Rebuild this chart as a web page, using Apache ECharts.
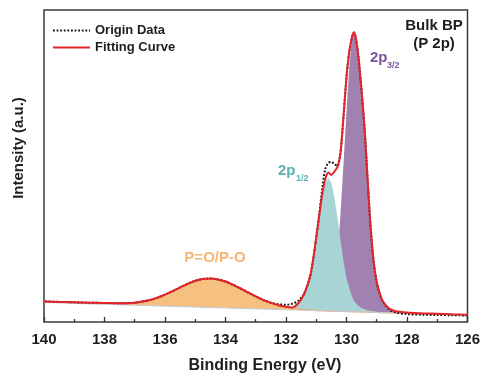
<!DOCTYPE html>
<html>
<head>
<meta charset="utf-8">
<script src="https://cdn.jsdelivr.net/npm/echarts@6/dist/echarts.min.js"></script>
<style>
  html, body { margin: 0; padding: 0; background: #fff; }
  #chart { width: 483px; height: 380px; }
</style>
</head>
<body>
<div id="chart"></div>
<script>
// Binding energy grid (eV)
const energy = [126, 126.5, 127, 127.5, 128, 128.4, 128.6, 128.8, 128.9, 129, 129.1, 129.2, 129.3, 129.4, 129.5, 129.55, 129.6, 129.65, 129.7, 129.75, 129.8, 129.85, 129.9, 129.95, 130, 130.1, 130.2, 130.3, 130.4, 130.5, 130.6, 130.7, 130.8, 130.9, 131, 131.1, 131.2, 131.4, 131.6, 131.8, 132, 132.25, 132.5, 132.75, 133, 133.25, 133.5, 133.75, 134, 134.25, 134.5, 134.75, 135, 135.25, 135.5, 135.75, 136, 136.25, 136.5, 137, 137.5, 138, 138.5, 139, 139.5, 140];

// Background under the spectrum
const background = [6.8, 7.3, 7.7, 8.2, 8.6, 9.0, 9.2, 9.3, 9.4, 9.5, 9.6, 9.7, 9.8, 9.9, 10.0, 10.0, 10.1, 10.1, 10.2, 10.2, 10.3, 10.3, 10.3, 10.4, 10.4, 10.5, 10.6, 10.7, 10.8, 10.9, 11.0, 11.1, 11.2, 11.2, 11.3, 11.4, 11.5, 11.7, 11.9, 12.1, 12.2, 12.5, 12.7, 12.9, 13.2, 13.4, 13.6, 13.8, 14.1, 14.3, 14.5, 14.7, 15.0, 15.2, 15.4, 15.6, 15.9, 16.1, 16.3, 16.8, 17.2, 17.7, 18.1, 18.6, 19.1, 19.5];

// Fitted components (height above background)
const peakPO = [0, 0, 0, 0, 0, 0, 0, 0, 0, 0, 0, 0, 0, 0, 0, 0, 0, 0, 0, 0, 0, 0, 0, 0, 0, 0, 0, 0, 0, 0, 0, 0, 0.1, 0.2, 0.3, 0.4, 0.5, 0.8, 1.2, 1.8, 2.7, 4.3, 6.4, 9.1, 12.4, 16.1, 19.9, 23.4, 26.4, 28.3, 29.0, 28.3, 26.2, 23.0, 19.2, 15.2, 11.4, 8.2, 5.6, 2.5, 1.6, 1.3, 1.2, 1.1, 1.0, 1.0];
const peak2p12 = [0, 0, 0, 0, 0, 0.1, 0.2, 0.4, 0.6, 0.8, 1.1, 1.5, 2.0, 2.8, 4.0, 5.0, 6.0, 7.5, 9.0, 11, 14, 18, 23, 28, 33.5, 50.7, 71.7, 94.0, 114.0, 128.0, 133, 128, 114, 94, 71.7, 50.7, 33.5, 15, 5, 1.0, 0.3, 0, 0, 0, 0, 0, 0, 0, 0, 0, 0, 0, 0, 0, 0, 0, 0, 0, 0, 0, 0, 0, 0, 0, 0, 0];
const peak2p32 = [0, 0, 0, 0, 0.3, 1.7, 4.2, 11.1, 18.1, 29.2, 48.7, 80.6, 127.9, 177.9, 215.5, 232.1, 248.8, 264.1, 273.8, 278, 273.8, 264.1, 247.4, 225.2, 200.2, 147.3, 95.9, 55.6, 29.2, 13.9, 6.1, 2.5, 0.8, 0.3, 0, 0, 0, 0, 0, 0, 0, 0, 0, 0, 0, 0, 0, 0, 0, 0, 0, 0, 0, 0, 0, 0, 0, 0, 0, 0, 0, 0, 0, 0, 0, 0];

// Envelope of the fit and the measured spectrum
const fitCurve = [7.3, 7.7, 8.2, 8.7, 9.4, 11.0, 13.8, 20.8, 28.4, 39.8, 60, 94, 142, 193, 231, 248, 264, 276, 285.5, 289.5, 287, 280, 272, 260, 245, 205, 169, 155, 150.5, 147, 149.5, 143, 128, 107, 84.5, 63, 46, 28, 18.5, 14.5, 15.2, 16.8, 19.1, 22.0, 25.6, 29.5, 33.5, 37.2, 40.5, 42.6, 43.5, 43.0, 41.2, 38.2, 34.6, 30.8, 27.3, 24.3, 21.9, 19.3, 18.8, 19.0, 19.3, 19.7, 20.1, 20.5];
const originData = [6.5, 6.8, 7.0, 7.3, 7.9, 9.8, 13.0, 20.8, 28.4, 39.8, 60, 94, 142, 193, 231, 248, 264, 276, 285.5, 289.5, 287, 280, 272, 260, 245, 205, 169, 156, 158, 160, 159, 153, 134, 108, 84.5, 63, 46, 28.5, 21, 18.3, 17.3, 17.8, 19.3, 22.0, 25.6, 29.5, 33.5, 37.2, 40.5, 42.6, 43.5, 43.0, 41.2, 38.2, 34.6, 30.8, 27.3, 24.3, 21.9, 19.3, 18.8, 19.0, 19.3, 19.7, 20.1, 20.5];

// Axis range and tick step (eV)
const energyRange = [126, 140];
const energyStep = 2;

const FONT = "'Liberation Sans', Arial, Helvetica, sans-serif";
const INK = '#1e1e1e';

function pairs(values) {
  return energy.map((e, i) => [e, values[i]]);
}

// A fitted component filled between the background and background + component
function peakBand(values, fill, edgeWidth, edgeColor) {
  return {
    type: 'custom',
    silent: true,
    animation: false,
    clip: true,
    data: [[133, 0]],
    renderItem: function (params, api) {
      const top = energy.map((e, i) => api.coord([e, background[i] + values[i]]));
      const bottom = energy.map((e, i) => api.coord([e, background[i]])).reverse();
      const children = [{
        type: 'polygon',
        shape: { points: top.concat(bottom) },
        style: { fill: fill, stroke: null }
      }];
      if (edgeWidth) {
        children.push({
          type: 'polyline',
          shape: { points: top },
          style: { fill: null, stroke: edgeColor, lineWidth: edgeWidth }
        });
      }
      return { type: 'group', children: children };
    }
  };
}

const chart = echarts.init(document.getElementById('chart'), null, { renderer: 'canvas' });

chart.setOption({
  backgroundColor: '#fff',
  animation: false,
  grid: {
    left: 44, right: 13, top: 10, bottom: 58,
    show: true, borderColor: '#3a3a3a', borderWidth: 1.5, backgroundColor: 'rgba(0,0,0,0)'
  },
  legend: {
    data: ['Origin Data', 'Fitting Curve'],
    orient: 'vertical', left: 47, top: 19,
    itemWidth: 37, itemHeight: 14, itemGap: 4,
    selectedMode: false,
    itemStyle: { opacity: 0 },
    textStyle: { fontFamily: FONT, fontWeight: 'bold', fontSize: 13, color: INK }
  },
  xAxis: {
    type: 'value', inverse: true,
    min: energyRange[0], max: energyRange[1], interval: energyStep,
    axisLine: { show: false },
    axisTick: { show: true, inside: true, length: 5, lineStyle: { color: '#333', width: 1.3 } },
    minorTick: { show: true, splitNumber: 2, length: 3, lineStyle: { color: '#333', width: 1.3 } },
    axisLabel: { fontFamily: FONT, fontWeight: 'bold', fontSize: 15, color: INK, margin: 10 },
    splitLine: { show: false },
    minorSplitLine: { show: false }
  },
  yAxis: {
    type: 'value', min: 0, max: 312,
    axisLine: { show: false }, axisTick: { show: false },
    axisLabel: { show: false }, splitLine: { show: false }
  },
  series: [
    {
      type: 'line', data: pairs(background), symbol: 'none', silent: true, animation: false,
      lineStyle: { width: 1, color: '#c2c8da' }
    },
    peakBand(peak2p32, '#a081b0', 0),
    peakBand(peak2p12, '#a8d4d5', 0),
    peakBand(peakPO, '#f6c07f', 1.2, '#f3ad63'),
    {
      name: 'Origin Data', type: 'line', data: pairs(originData), symbol: 'none',
      smooth: 0.3, animation: false,
      itemStyle: { opacity: 0 },
      lineStyle: { color: '#111', width: 2, type: [1.8, 1.8] }
    },
    {
      name: 'Fitting Curve', type: 'line', data: pairs(fitCurve), symbol: 'none',
      smooth: 0.3, animation: false,
      itemStyle: { opacity: 0 },
      lineStyle: { color: '#e3242b', width: 2 }
    }
  ],
  graphic: [
    { type: 'text', x: 434, y: 26, style: { text: 'Bulk BP', font: 'bold 15px ' + FONT, fill: INK, align: 'center', verticalAlign: 'middle' } },
    { type: 'text', x: 434, y: 44, style: { text: '(P 2p)', font: 'bold 15px ' + FONT, fill: INK, align: 'center', verticalAlign: 'middle' } },
    { type: 'text', x: 370, y: 58, style: { text: '2p', font: 'bold 15px ' + FONT, fill: '#7b569d', align: 'left', verticalAlign: 'middle' } },
    { type: 'text', x: 387, y: 66, style: { text: '3/2', font: 'bold 9px ' + FONT, fill: '#7b569d', align: 'left', verticalAlign: 'middle' } },
    { type: 'text', x: 278, y: 171, style: { text: '2p', font: 'bold 15px ' + FONT, fill: '#5bb0b2', align: 'left', verticalAlign: 'middle' } },
    { type: 'text', x: 296, y: 179, style: { text: '1/2', font: 'bold 9px ' + FONT, fill: '#5bb0b2', align: 'left', verticalAlign: 'middle' } },
    { type: 'text', x: 215, y: 258, style: { text: 'P=O/P-O', font: 'bold 15px ' + FONT, fill: '#f6b673', align: 'center', verticalAlign: 'middle' } },
    { type: 'text', x: 265, y: 366, style: { text: 'Binding Energy (eV)', font: 'bold 16px ' + FONT, fill: INK, align: 'center', verticalAlign: 'middle' } },
    { type: 'text', x: 19, y: 148, rotation: Math.PI / 2, style: { text: 'Intensity (a.u.)', font: 'bold 15px ' + FONT, fill: INK, align: 'center', verticalAlign: 'middle' } }
  ]
});
</script>
</body>
</html>
